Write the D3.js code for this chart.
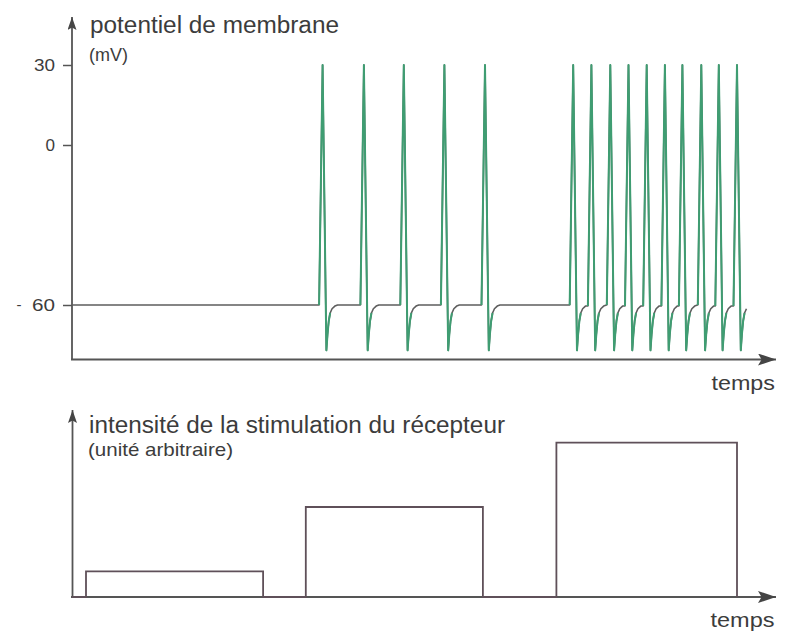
<!DOCTYPE html>
<html>
<head>
<meta charset="utf-8">
<script src="https://cdn.jsdelivr.net/npm/d3@7"></script>
<style>
  html, body { margin: 0; padding: 0; background: #fff; }
  svg { display: block; }
  text { font-family: "Liberation Sans", Arial, sans-serif; fill: #3c3c3c; }
</style>
</head>
<body>
<svg id="chart" width="786" height="631"></svg>
<script>
// Membrane potential recording (time axis in arbitrary units, 0–100)
const restPotential = -60;
const spikesWeak = [35.8, 41.7, 47.4, 53.2, 59.0];
const spikesStrong = [71.6, 74.2, 76.9, 79.5, 82.1, 84.7, 87.2, 89.9, 92.4, 95.0];
const recordEnd = 96.4;

// One action potential: [time after peak, mV]
const apRise = 0.5;
const apShape = [[0, 30], [0.54, -77], [0.7, -71], [0.88, -66], [1.08, -63], [1.35, -61.4], [1.75, -60.4], [2.14, -60]];

const potentialTicks = [30, 0, -60];
const potentialTickLabels = ["30", "0", "- 60"];

// Receptor stimulation steps (arbitrary units)
const stimOn = [2.0, 33.4, 69.2];
const stimOff = [27.3, 58.7, 95.0];
const stimLevel = [1, 3.5, 6];

const svg = d3.select("#chart");
const axisColor = "#555";

const x = d3.scaleLinear().domain([0, 100]).range([72, 772]);
const yV = d3.scaleLinear().domain([-60, 30]).range([305, 65]);
const yS = d3.scaleLinear().domain([0, 6]).range([597, 442.7]);

// arrowheads
const defs = svg.append("defs");
function arrowMarker(id, len, half) {
  defs.append("marker")
    .attr("id", id)
    .attr("markerUnits", "userSpaceOnUse")
    .attr("viewBox", `0 0 ${len} ${half * 2}`)
    .attr("markerWidth", len)
    .attr("markerHeight", half * 2)
    .attr("refX", len)
    .attr("refY", half)
    .attr("orient", "auto")
    .append("path")
    .attr("d", `M0,0 L${len},${half} L0,${half * 2} L${len * 0.2},${half} Z`)
    .attr("fill", "#454545");
}
arrowMarker("arrowY", 13, 4.5);
arrowMarker("arrowX", 18, 6);

function axisLine(x1, y1, x2, y2, marker) {
  svg.append("line")
    .attr("x1", x1).attr("y1", y1).attr("x2", x2).attr("y2", y2)
    .attr("stroke", axisColor).attr("stroke-width", 1.8)
    .attr("marker-end", `url(#${marker})`);
}

// ---------- upper panel: membrane potential ----------
axisLine(x(0), 360, x(0), 17, "arrowY");
axisLine(x(0) - 1, 359.5, 776, 359.5, "arrowX");

const yAxis = d3.axisLeft(yV).tickValues(potentialTicks).tickSize(9).tickFormat("");
const gy = svg.append("g").attr("transform", `translate(${x(0)},0)`).call(yAxis);
gy.select(".domain").remove();
gy.selectAll(".tick line").attr("stroke", axisColor).attr("stroke-width", 1.5);

// tick labels
const tickLabelWidths = { "30": 21, "0": 9.5, "60": 23 };
potentialTicks.forEach((v, i) => {
  const label = potentialTickLabels[i];
  const parts = label.split(" ");
  const num = parts[parts.length - 1];
  svg.append("text")
    .attr("x", 55).attr("y", yV(v) + 5.8)
    .attr("text-anchor", "end")
    .attr("font-size", 16)
    .attr("textLength", tickLabelWidths[num])
    .attr("lengthAdjust", "spacingAndGlyphs")
    .text(num);
  if (parts.length > 1) {
    svg.append("text")
      .attr("x", 16.5).attr("y", yV(v) + 5)
      .attr("font-size", 15)
      .attr("fill", "#777")
      .text(parts[0]);
  }
});

// build the recorded trace from the spike times
const spikeTimes = spikesWeak.concat(spikesStrong);
const trace = [[0, restPotential]];
spikeTimes.forEach((s, i) => {
  const last = trace[trace.length - 1];
  trace.push([s - apRise, last[1]]);
  const limit = i < spikeTimes.length - 1 ? spikeTimes[i + 1] - apRise : recordEnd;
  apShape.forEach(([dt, mv]) => {
    if (s + dt < limit) trace.push([s + dt, mv]);
  });
});

const vLine = d3.line()
  .x(d => x(d[0]))
  .y(d => yV(d[1]));

svg.append("path")
  .datum(trace)
  .attr("d", vLine)
  .attr("fill", "none")
  .attr("stroke", "#5e5e5e")
  .attr("stroke-width", 1.6)
  .attr("stroke-linejoin", "round");

// each action potential highlighted in green
spikeTimes.forEach(s => {
  const seg = trace.filter(p => p[0] >= s - apRise && p[0] <= s + 1.3);
  svg.append("path")
    .datum(seg)
    .attr("d", vLine)
    .attr("fill", "none")
    .attr("stroke", "#3f9d72")
    .attr("stroke-width", 2)
    .attr("stroke-linejoin", "round");
});

function label(txt, x0, y0, size, len) {
  svg.append("text")
    .attr("x", x0).attr("y", y0)
    .attr("font-size", size)
    .attr("textLength", len)
    .attr("lengthAdjust", "spacingAndGlyphs")
    .text(txt);
}
label("potentiel de membrane", 90, 33, 23, 249);
label("(mV)", 89, 61, 18, 39);
label("temps", 711.5, 390, 20, 63.5);

// ---------- lower panel: receptor stimulation ----------
axisLine(x(0) + 0.5, 597, x(0) + 0.5, 410, "arrowY");
axisLine(x(0) - 1, 597, 776, 597, "arrowX");

const stimTrace = [[0, 0]];
stimOn.forEach((t0, i) => {
  stimTrace.push([t0, 0], [t0, stimLevel[i]], [stimOff[i], stimLevel[i]], [stimOff[i], 0]);
});

svg.append("path")
  .datum(stimTrace)
  .attr("d", d3.line().x(d => x(d[0])).y(d => yS(d[1])))
  .attr("fill", "none")
  .attr("stroke", "#5f5059")
  .attr("stroke-width", 1.8)
  .attr("stroke-linejoin", "miter");

label("intensité de la stimulation du récepteur", 89, 432.5, 23, 416);
label("(unité arbitraire)", 88, 456, 19, 145);
label("temps", 710.5, 627, 20, 64);
</script>
</body>
</html>
